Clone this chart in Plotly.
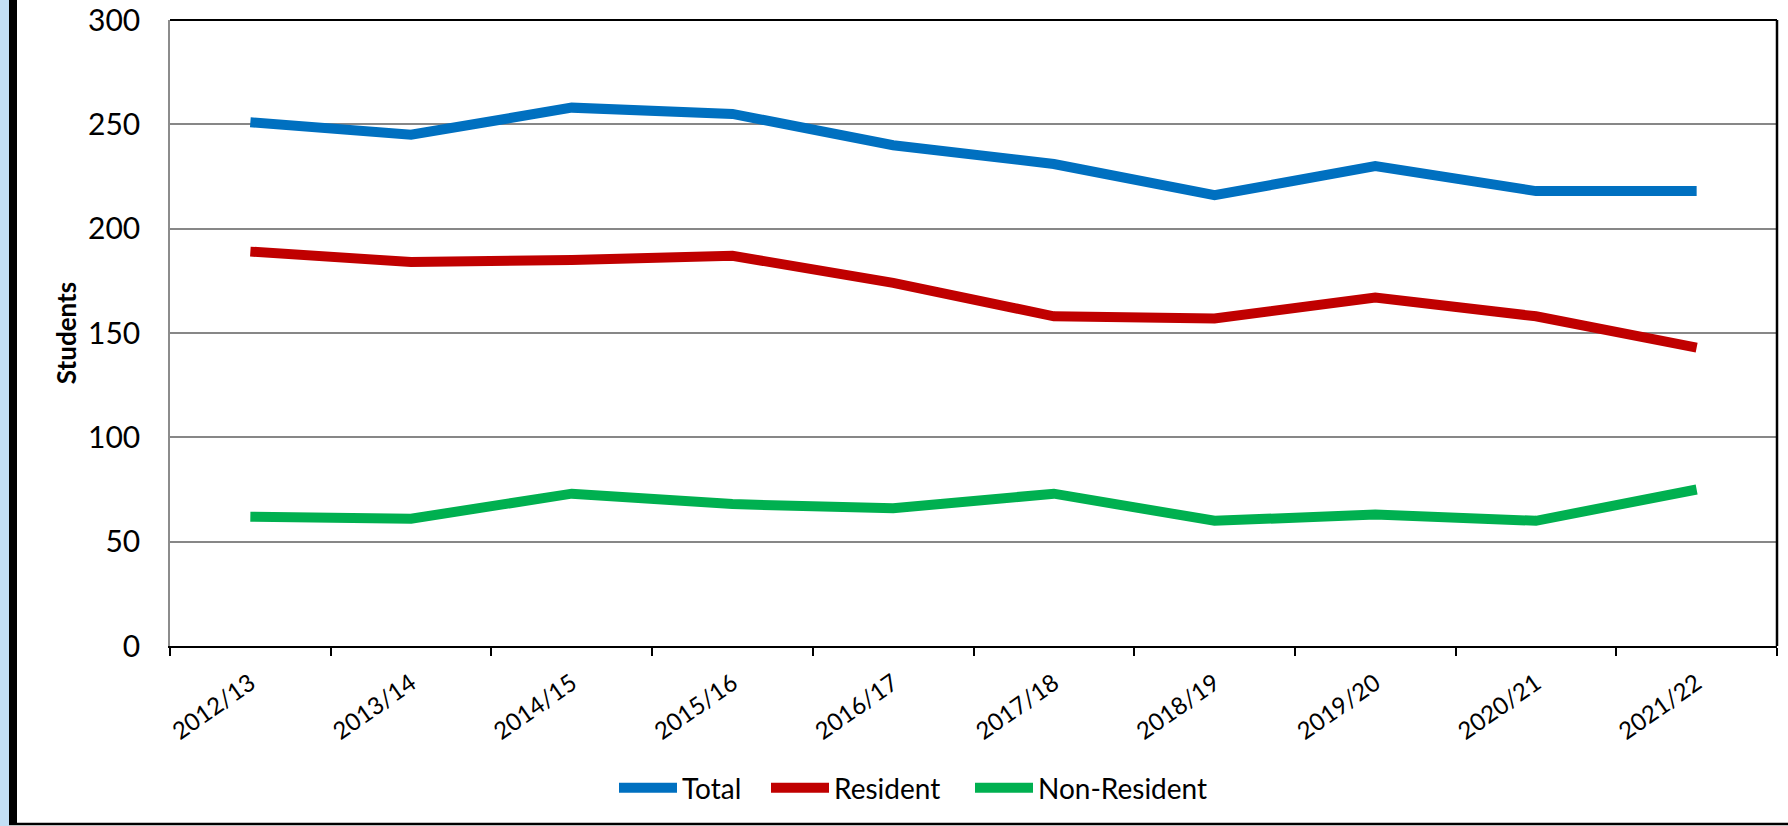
import plotly.graph_objects as go

years = ["2012/13", "2013/14", "2014/15", "2015/16", "2016/17",
         "2017/18", "2018/19", "2019/20", "2020/21", "2021/22"]
total = [251, 245, 258, 255, 240, 231, 216, 230, 218, 218]
resident = [189, 184, 185, 187, 174, 158, 157, 167, 158, 143]
non_resident = [62, 61, 73, 68, 66, 73, 60, 63, 60, 75]

y_ticks = [0, 50, 100, 150, 200, 250, 300]

W, H = 1788, 826
L, R, T, B = 170, 11, 20, 180
pw, ph = W - L - R, H - T - B

def px(x):
    return (x - L) / pw

def py(y):
    return (H - B - y) / ph

FONT = "Lato"

series = [("Total", total, "#0070C0", "legend", 614),
          ("Resident", resident, "#C00000", "legend2", 766),
          ("Non-Resident", non_resident, "#00B050", "legend3", 970)]

fig = go.Figure()
legends = {}
for name, vals, col, leg, lx in series:
    fig.add_trace(go.Scatter(x=years, y=vals, name=name, mode="lines", legend=leg,
                             line=dict(color=col, width=10)))
    legends[leg] = dict(orientation="h", x=px(lx), xanchor="left", y=py(788), yanchor="middle",
                        font=dict(size=28, family=FONT), itemwidth=58,
                        bgcolor="rgba(0,0,0,0)")

shapes = [
    # light blue strip and black bar on the left
    dict(type="rect", xref="paper", yref="paper", x0=px(0), x1=px(9), y0=py(826), y1=py(0),
         fillcolor="#C3DFF5", line=dict(width=0), layer="above"),
    dict(type="rect", xref="paper", yref="paper", x0=px(9), x1=px(17), y0=py(825), y1=py(0),
         fillcolor="black", line=dict(width=0), layer="above"),
    # bottom frame line
    dict(type="line", xref="paper", yref="paper", x0=px(9), x1=px(1788), y0=py(824), y1=py(824),
         line=dict(color="black", width=2.5)),
    # top and right plot border
    dict(type="line", xref="paper", yref="paper", x0=0, x1=1, y0=1, y1=1,
         line=dict(color="black", width=2)),
    dict(type="line", xref="paper", yref="paper", x0=1, x1=1, y0=0, y1=1,
         line=dict(color="black", width=2.5)),
]

fig.update_layout(
    width=W, height=H,
    margin=dict(l=L, r=R, t=T, b=B, autoexpand=False),
    paper_bgcolor="white", plot_bgcolor="white",
    font=dict(family=FONT, color="black"),
    showlegend=True,
    shapes=shapes,
    xaxis=dict(type="category", range=[-0.5, 9.5], tickson="boundaries",
               ticks="outside", ticklen=8, tickwidth=2, tickcolor="black",
               showline=True, linecolor="black", linewidth=2,
               showgrid=False, tickangle=-35, ticklabelstandoff=12,
               tickfont=dict(size=24, family=FONT)),
    yaxis=dict(range=[0, 300], tickvals=y_ticks, ticks="",
               showline=True, linecolor="#8C8C8C", linewidth=1.5,
               showgrid=True, gridcolor="#878787", gridwidth=1.5, zeroline=False,
               tickfont=dict(size=30, family=FONT), ticklabelstandoff=22,
               ticklabeloverflow="allow",
               title=dict(text="<b>Students</b>", font=dict(size=26, family=FONT), standoff=4)),
    **legends,
)

fig.write_html(
    "out.html",
    config={"displayModeBar": False},
    post_script="document.body.style.margin='0px';document.body.style.padding='0px';"
                "document.body.style.overflow='hidden';",
)
